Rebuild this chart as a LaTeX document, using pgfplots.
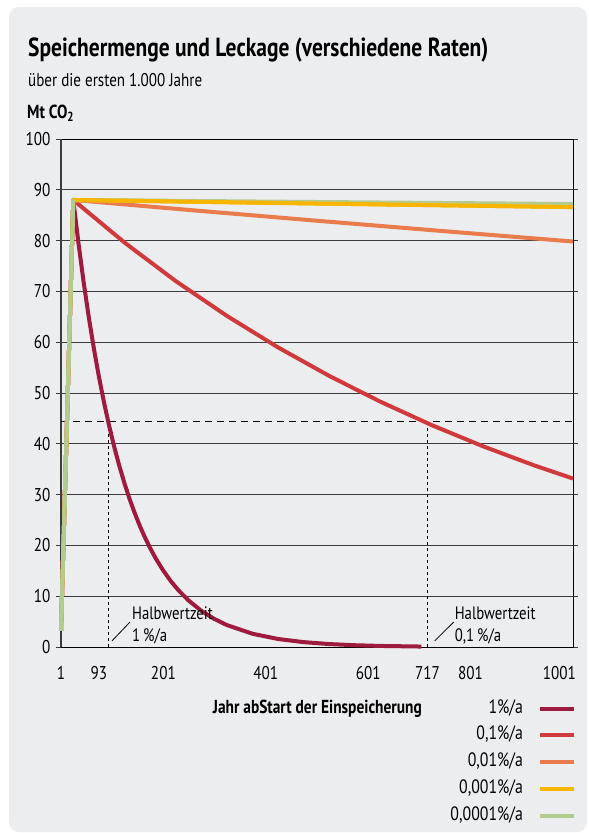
\documentclass[border=0pt]{standalone}
\usepackage{fontspec}
\setmainfont{PT Sans}[FakeStretch=0.82]
\usepackage{pgfplots}
\pgfplotsset{compat=1.18}
\definecolor{bg}{HTML}{ECEDEF}
\definecolor{cA}{HTML}{9E1A3E}
\definecolor{cB}{HTML}{D13A3C}
\definecolor{cC}{HTML}{EA7B4C}
\definecolor{cD}{HTML}{F7B500}
\definecolor{cE}{HTML}{B4CB90}
\definecolor{axgray}{HTML}{3C3C3C}
\newcommand{\fs}[1]{\fontsize{#1}{#1}\selectfont}
\begin{document}
\begin{tikzpicture}
\fill[white] (0pt,0pt) rectangle (589pt,-833pt);
\fill[bg, rounded corners=10pt] (9pt,-7pt) rectangle (587pt,-832pt);
\node[anchor=base west, inner sep=0pt, font=\fs{26.2}\bfseries] at (28pt,-56.5pt) {Speichermenge und Leckage (verschiedene Raten)};
\node[anchor=base west, inner sep=0pt, font=\fs{18.4}] at (28pt,-86pt) {über die ersten 1.000 Jahre};
\node[anchor=base west, inner sep=0pt, font=\fs{18.9}\bfseries] at (27pt,-118pt) {Mt CO\textsubscript{2}};
\node[anchor=base east, inner sep=0pt, font=\fs{18.8}\bfseries] at (422pt,-713pt) {Jahr abStart der Einspeicherung};
\begin{axis}[
  at={(61pt,-647pt)}, anchor=south west,
  scale only axis, width=512pt, height=508pt,
  xmin=1, xmax=1001, ymin=0, ymax=100,
  xtick={1,93,201,401,601,717,801,1001},
  xticklabels={1,\makebox[0pt][r]{93\kern1pt},201,401,601,717,801,\makebox[0pt][r]{1001\kern-3pt}},
  ytick={0,10,...,100},
  ymajorgrids,
  major grid style={axgray, line width=0.8pt},
  axis line style={black, line width=0.8pt},
  xtick style={draw=none},
  ytick style={axgray, line width=0.8pt},
  tick align=outside, major tick length=5pt,
  ticklabel style={font=\fs{18.5}},
  xticklabel style={yshift=-11pt},
  yticklabel style={xshift=-2pt},
  /pgf/number format/assume math mode=true,
  /pgf/number format/1000 sep={},
  legend plot pos=right,
  legend cell align=right,
  legend style={at={(1.006,-0.1053)}, anchor=north east, draw=none, fill=none,
    font=\fs{19.3}, inner sep=0pt, row sep=10.7pt,
    nodes={inner sep=0pt, text height=12.5pt, text depth=3.5pt},
    /tikz/every even column/.append style={column sep=15pt},
    /tikz/every odd column/.append style={column sep=15pt}},
  legend image code/.code={\draw[#1] (0pt,0pt) -- (34pt,0pt);},
  clip=false,
  every axis plot/.append style={line width=4pt, line join=round},
]
\draw[axgray, line width=2.2pt] (axis cs:1,0) -- (axis cs:1,100);
\addplot[black, line width=0.8pt, dash pattern=on 7pt off 5pt, forget plot] coordinates {(1,44.5)(1001,44.5)};
\addplot[black, line width=0.8pt, dash pattern=on 3pt off 3pt, forget plot] coordinates {(93,0)(93,44.5)};
\addplot[black, line width=0.8pt, dash pattern=on 3pt off 3pt, forget plot] coordinates {(717,0)(717,44.5)};
\addplot[cA] coordinates {(1,3.2)(25,88)(35,79.59)(45,71.98)(55,65.09)(65,58.87)(75,53.24)(85,48.15)(95,43.55)(105,39.38)(115,35.62)(125,32.21)(135,29.13)(145,26.35)(155,23.83)(165,21.55)(175,19.49)(185,17.62)(200,15.16)(215,13.03)(230,11.21)(250,9.17)(275,7.13)(300,5.55)(325,4.32)(375,2.61)(425,1.58)(475,0.96)(525,0.58)(575,0.35)(625,0.21)(705,0.09)};
\addlegendentry{1\%/a}
\addplot[cB] coordinates {(1,3.2)(25,88)(125,79.62)(225,72.04)(325,65.18)(425,58.97)(525,53.36)(625,48.28)(725,43.68)(825,39.52)(925,35.76)(1001,33.16)};
\addlegendentry{0,1\%/a}
\addplot[cC] coordinates {(1,3.2)(25,88)(250,86.04)(500,83.92)(750,81.85)(1001,79.82)};
\addlegendentry{0,01\%/a}
\addplot[cD] coordinates {(1,3.2)(25,88)(500,87.3)(1001,86.6)};
\addlegendentry{0,001\%/a}
\addplot[cE] coordinates {(1,3.2)(25,88)(500,87.6)(1001,87.2)};
\addlegendentry{0,0001\%/a}
\addplot[cD, forget plot] coordinates {(25,88)(500,87.3)(1001,86.6)};
\addplot[cE, forget plot] coordinates {(1,3.2)(25,88)};
\draw[black, line width=0.8pt] (axis cs:100.5,1.2) -- (axis cs:135.6,4.9);
\draw[black, line width=0.8pt] (axis cs:730.8,1.2) -- (axis cs:767.8,4.9);
\node[anchor=base west, inner sep=0pt, font=\fs{18}] at (axis cs:139.5,5.45) {Halbwertzeit};
\node[anchor=base west, inner sep=0pt, font=\fs{18}] at (axis cs:139.5,1.04) {1\,\%/a};
\node[anchor=base west, inner sep=0pt, font=\fs{18}] at (axis cs:769.8,5.45) {Halbwertzeit};
\node[anchor=base west, inner sep=0pt, font=\fs{18}] at (axis cs:769.8,1.04) {0,1\,\%/a};
\end{axis}
\end{tikzpicture}
\end{document}
